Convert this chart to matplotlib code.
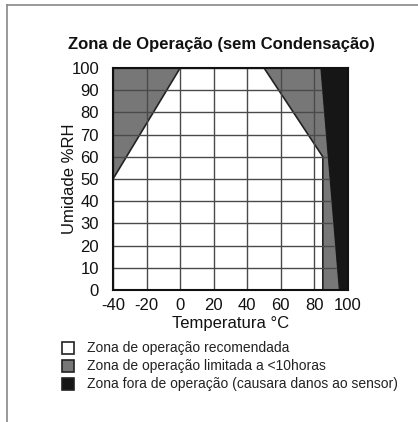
import matplotlib
matplotlib.use('Agg')
import matplotlib.pyplot as plt
from matplotlib.patches import Polygon, Rectangle
from matplotlib.lines import Line2D

plt.rcParams['font.family'] = ['Liberation Sans', 'DejaVu Sans']
plt.rcParams['axes.unicode_minus'] = False

# ------------------- data -------------------
x_ticks = [-40, -20, 0, 20, 40, 60, 80, 100]
y_ticks = [0, 10, 20, 30, 40, 50, 60, 70, 80, 90, 100]

# limited zone, left side (temperature, humidity)
limited_left_t = [-40, 0, -40]
limited_left_h = [50, 100, 100]
# limited zone, right side
limited_right_t = [50, 85, 85, 95, 84]
limited_right_h = [100, 60, 0, 0, 100]
# out of operation zone
out_t = [84, 95, 100, 100]
out_h = [100, 0, 0, 100]

legend_labels = ['Zona de operação recomendada',
                 'Zona de operação limitada a <10horas',
                 'Zona fora de operação (causara danos ao sensor)']
legend_colors = ['white', '#777777', '#161616']

W, H = 418, 422
fig = plt.figure(figsize=(W / 100, H / 100), dpi=100)
ax = fig.add_axes([113 / W, 1 - 290 / H, (348 - 113) / W, (290 - 68) / H])

ax.set_xlim(-40, 100)
ax.set_ylim(0, 100)

ax.add_patch(Polygon(list(zip(limited_left_t, limited_left_h)), closed=True,
                     facecolor='#777777', edgecolor='#222222', linewidth=1.2, zorder=1))
ax.add_patch(Polygon(list(zip(limited_right_t, limited_right_h)), closed=True,
                     facecolor='#777777', edgecolor='#222222', linewidth=1.2, zorder=1))
ax.add_patch(Polygon(list(zip(out_t, out_h)), closed=True,
                     facecolor='#161616', edgecolor='#161616', linewidth=0.5, zorder=3))

ax.set_xticks(x_ticks)
ax.set_yticks(y_ticks)
ax.grid(True, color='#4a4a4a', linewidth=1.0, zorder=2)
ax.set_axisbelow(False)
ax.tick_params(length=0, labelsize=12, colors='#111111')
ax.tick_params(axis='x', pad=6)
ax.tick_params(axis='y', pad=10)
for s in ax.spines.values():
    s.set_linewidth(1.5)
    s.set_color('#111111')
    s.set_zorder(4)

ax.set_xlabel('Temperatura °C', fontsize=12, labelpad=2, color='#111111')
ax.set_ylabel('Umidade %RH', fontsize=12, color='#111111')
ax.yaxis.set_label_coords(-0.155, 0.5)

fig.text(221 / W, 1 - 44 / H, 'Zona de Operação (sem Condensação)',
         ha='center', va='center', fontsize=12, fontweight='bold', color='#111111')

# legend drawn by hand
rows_y = [348, 366, 384]
for lab, col, y in zip(legend_labels, legend_colors, rows_y):
    fig.patches.append(Rectangle((62 / W, 1 - (y + 6) / H), 12 / W, 12 / H,
                                 transform=fig.transFigure, facecolor=col,
                                 edgecolor='#222222', linewidth=1.2))
    fig.text(87 / W, 1 - y / H, lab, ha='left', va='center', fontsize=10, color='#222222')

# frame of the original box (left and top edges)
fig.add_artist(Line2D([7 / W, 7 / W], [0, 1 - 5 / H], transform=fig.transFigure,
                      color='#888888', linewidth=1.2))
fig.add_artist(Line2D([7 / W, 1], [1 - 5 / H, 1 - 5 / H], transform=fig.transFigure,
                      color='#888888', linewidth=1.2))

fig.savefig('out.png', dpi=100)
